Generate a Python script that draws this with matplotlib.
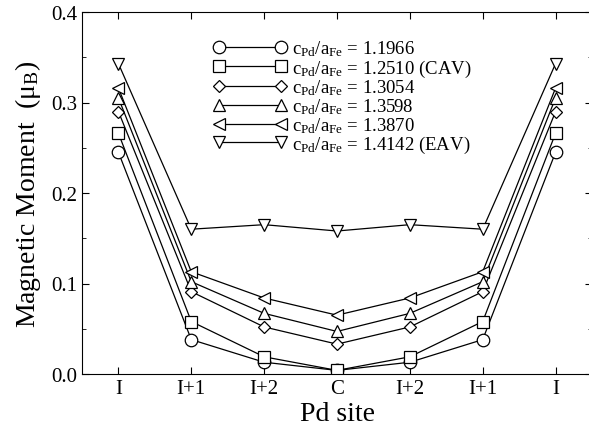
import matplotlib
matplotlib.use("Agg")
import matplotlib.pyplot as plt
import numpy as np

plt.rcParams['font.family'] = ['Liberation Serif', 'DejaVu Serif']
plt.rcParams['mathtext.fontset'] = 'custom'
plt.rcParams['mathtext.rm'] = 'Liberation Serif'
plt.rcParams['mathtext.it'] = 'Liberation Serif:italic'

sites = ["I", "I+1", "I+2", "C", "I+2", "I+1", "I"]
ratios = ["1.1966", "1.2510 (CAV)", "1.3054", "1.3598", "1.3870", "1.4142 (EAV)"]
markers = ["o", "s", "D", "^", "<", "v"]

m_11966 = [0.245, 0.038, 0.013, 0.004, 0.013, 0.038, 0.245]
m_12510 = [0.266, 0.058, 0.019, 0.004, 0.019, 0.058, 0.266]
m_13054 = [0.290, 0.091, 0.052, 0.033, 0.052, 0.091, 0.290]
m_13598 = [0.305, 0.102, 0.067, 0.047, 0.067, 0.102, 0.305]
m_13870 = [0.316, 0.113, 0.084, 0.065, 0.084, 0.113, 0.316]
m_14142 = [0.343, 0.160, 0.165, 0.158, 0.165, 0.160, 0.343]
moments = [m_11966, m_12510, m_13054, m_13598, m_13870, m_14142]

fig = plt.figure(figsize=(5.89, 4.35), dpi=100)
ax = fig.add_axes([82/589, 60/435, 510/589, 362/435])

x = np.arange(len(sites))
for m, r, mk in zip(moments, ratios, markers):
    ms = 9
    if mk == "s":
        ms = 8
    if mk == "D":
        ms = 6.5
    ax.plot(x, m, marker=mk, color="black", lw=0.9, ms=ms,
            mfc="white", mec="black", mew=0.9,
            label=r"c$_{\mathrm{Pd}}$/a$_{\mathrm{Fe}}$ = " + r)

ax.set_xlim(-0.5, 6.5)
ax.set_ylim(0, 0.4)
ax.set_xticks(x)
ax.set_xticklabels(sites)
ax.set_yticks([0.0, 0.1, 0.2, 0.3, 0.4])
ax.set_yticks(np.arange(0.05, 0.4, 0.1), minor=True)
ax.tick_params(direction="in", top=True, right=True, labelsize=15, length=5)
ax.tick_params(which="minor", direction="in", right=True, length=3)
ax.set_xlabel("Pd site", fontsize=20, labelpad=2)
ax.set_ylabel("Magnetic Moment  (μ$_{\\mathrm{B}}$)", fontsize=20, labelpad=6)

ax.legend(loc="upper left", bbox_to_anchor=(0.225, 0.973), frameon=False,
          numpoints=2, handlelength=3.9, fontsize=13.5, labelspacing=-0.05,
          handletextpad=0.3)

fig.savefig("out.png", dpi=100)
